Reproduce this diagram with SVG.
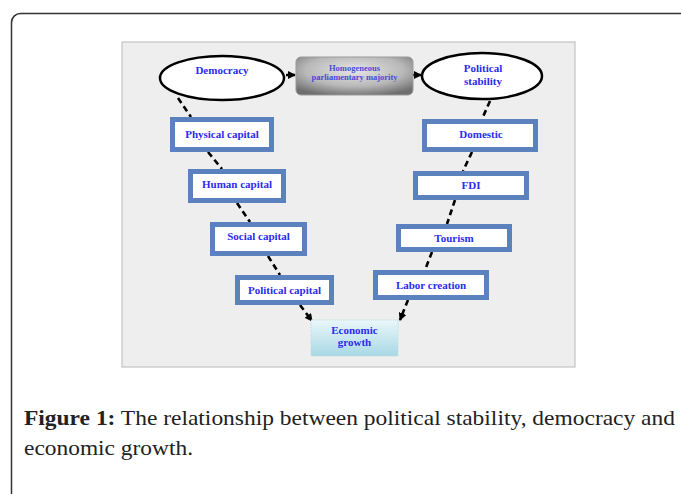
<svg xmlns="http://www.w3.org/2000/svg" width="681" height="494" viewBox="0 0 681 494">
<defs>
<style>
.box{fill:#ffffff;stroke:#5b82bf;stroke-width:5}
.ell{fill:#ffffff;stroke:#000;stroke-width:2.5}
.lbl{font-family:"Liberation Serif",serif;font-weight:bold;font-size:11px;fill:#2b2bf0;text-anchor:middle}
.small{font-size:8.5px;fill:#4a4ad8}
.dash{stroke:#000;stroke-width:2.6;stroke-dasharray:6 4;fill:none}
.solid{stroke:#000;stroke-width:2.5;fill:none}
.cap{font-family:"Liberation Serif",serif;font-size:22px;fill:#222}
</style>
<radialGradient id="gGray" cx="0.5" cy="0.35" r="0.7">
<stop offset="0" stop-color="#e6e6e6"/>
<stop offset="0.6" stop-color="#b8b8b8"/>
<stop offset="1" stop-color="#6e6e6e"/>
</radialGradient>
<linearGradient id="gCyan" x1="0" y1="0" x2="0" y2="1">
<stop offset="0" stop-color="#eaf7fb"/>
<stop offset="1" stop-color="#a8d8e4"/>
</linearGradient>
<marker id="ah" markerWidth="8" markerHeight="8" refX="7" refY="4" orient="auto" markerUnits="userSpaceOnUse">
<path d="M0,0 L8,4 L0,8 Z" fill="#000"/>
</marker>
</defs>
<rect x="11.5" y="13.5" width="720" height="520" rx="9" fill="#ffffff" stroke="#333" stroke-width="1.5"/>
<rect x="122" y="42" width="453" height="325" fill="#eeeeee" stroke="#c4c4c4" stroke-width="1.2"/>
<g id="connectors">
<line class="solid" x1="286" y1="75" x2="295" y2="75" marker-end="url(#ah)"/>
<line class="solid" x1="413" y1="75" x2="421" y2="75" marker-end="url(#ah)"/>
<line class="dash" x1="178" y1="98" x2="191" y2="117"/>
<line class="dash" x1="208" y1="152" x2="222" y2="169"/>
<line class="dash" x1="237" y1="203" x2="250" y2="222"/>
<line class="dash" x1="268" y1="256" x2="280" y2="275"/>
<line class="dash" x1="300" y1="305" x2="312" y2="321" marker-end="url(#ah)"/>
<line class="dash" x1="490" y1="101" x2="482" y2="119"/>
<line class="dash" x1="472" y1="152" x2="463" y2="171"/>
<line class="dash" x1="455" y1="200" x2="447" y2="224"/>
<line class="dash" x1="432" y1="252" x2="425" y2="270"/>
<line class="dash" x1="408" y1="300" x2="400" y2="320" marker-end="url(#ah)"/>
</g>
<g id="democracy">
<ellipse class="ell" cx="222" cy="78" rx="62" ry="22"/>
<text class="lbl" x="222" y="74">Democracy</text>
</g>
<g id="homogeneous">
<rect x="296" y="57" width="117" height="38" rx="5" fill="url(#gGray)" stroke="#9a9a9a" stroke-width="1"/>
<text class="lbl small" x="354.5" y="71">Homogeneous</text>
<text class="lbl small" x="354.5" y="80">parliamentary majority</text>
</g>
<g id="political-stability">
<ellipse class="ell" cx="482" cy="76" rx="60" ry="23"/>
<text class="lbl" x="483" y="72">Political</text>
<text class="lbl" x="483" y="85">stability</text>
</g>
<g id="physical-capital">
<rect class="box" x="172.5" y="119.5" width="99" height="30"/>
<text class="lbl" x="222" y="138">Physical capital</text>
</g>
<g id="human-capital">
<rect class="box" x="190.5" y="171.5" width="93" height="29"/>
<text class="lbl" x="237" y="188">Human capital</text>
</g>
<g id="social-capital">
<rect class="box" x="212.5" y="224.5" width="92" height="29"/>
<text class="lbl" x="258.5" y="240">Social capital</text>
</g>
<g id="political-capital">
<rect class="box" x="237.5" y="277.5" width="94" height="25"/>
<text class="lbl" x="284.5" y="294">Political capital</text>
</g>
<g id="domestic">
<rect class="box" x="424.5" y="121.5" width="111" height="28"/>
<text class="lbl" x="481" y="138">Domestic</text>
</g>
<g id="fdi">
<rect class="box" x="415.5" y="173.5" width="111" height="24"/>
<text class="lbl" x="471" y="189">FDI</text>
</g>
<g id="tourism">
<rect class="box" x="398.5" y="226.5" width="111" height="23"/>
<text class="lbl" x="454" y="242">Tourism</text>
</g>
<g id="labor-creation">
<rect class="box" x="375.5" y="272.5" width="111" height="25"/>
<text class="lbl" x="431" y="289">Labor creation</text>
</g>
<g id="economic-growth">
<rect x="311" y="320" width="87" height="36" fill="url(#gCyan)" stroke="#b9d9e2" stroke-width="1" stroke-dasharray="1 1"/>
<text class="lbl" x="354.5" y="334">Economic</text>
<text class="lbl" x="354.5" y="346">growth</text>
</g>
<text class="cap" x="24" y="425" textLength="651" lengthAdjust="spacingAndGlyphs"><tspan font-weight="bold">Figure 1:</tspan> The relationship between political stability, democracy and</text>
<text class="cap" x="24" y="455" textLength="169" lengthAdjust="spacingAndGlyphs">economic growth.</text>
</svg>
